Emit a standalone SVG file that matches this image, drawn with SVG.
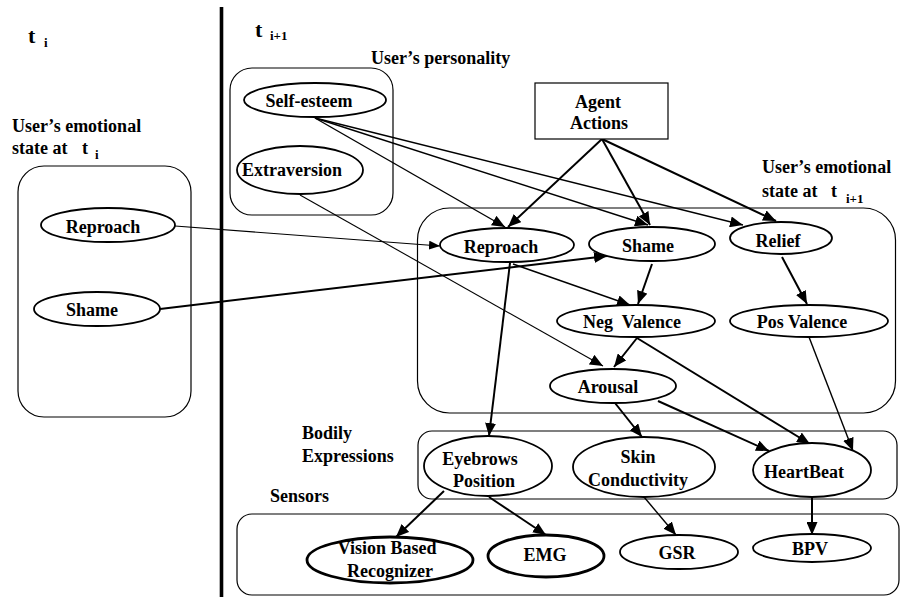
<svg xmlns="http://www.w3.org/2000/svg" width="901" height="597" viewBox="0 0 901 597">
<style>
text{font-family:'Liberation Serif','Times New Roman',Times,'DejaVu Serif',serif;font-weight:700;font-size:18px;fill:#000}
.c{text-anchor:middle}
.sub{font-size:13px}
.big{font-size:22px}
.box{fill:none;stroke:#000;stroke-width:1.2}
.n{fill:#fff;stroke:#000;stroke-width:1.8}
.nt{fill:#fff;stroke:#000;stroke-width:2.8}
.e{fill:none;stroke:#000;stroke-width:2}
.t1{stroke-width:1.1}
.t2{stroke-width:1.4}
</style>
<defs>
<marker id="ah" markerUnits="userSpaceOnUse" markerWidth="13" markerHeight="11" refX="13" refY="5.5" orient="auto">
<path d="M0,0 L13,5.5 L0,11 z" fill="#000"/>
</marker>
<marker id="ahs" markerUnits="userSpaceOnUse" markerWidth="11" markerHeight="9" refX="11" refY="4.5" orient="auto">
<path d="M0,0 L11,4.5 L0,9 z" fill="#000"/>
</marker>
</defs>
<rect width="901" height="597" fill="#fff"/>

<g id="divider"><line x1="221.5" y1="7" x2="221.5" y2="597" stroke="#000" stroke-width="3.6"/></g>

<g id="labels">
<text class="big" x="28" y="43">t</text><text class="sub" x="44" y="47">i</text>
<text class="big" x="255" y="37">t</text><text class="sub" x="270" y="40">i+1</text>
<text x="371" y="64">User’s personality</text>
<text x="12" y="132">User’s emotional</text>
<text x="12" y="154">state at</text><text x="82" y="154">t</text><text class="sub" x="95" y="159">i</text>
<text x="762" y="173">User’s emotional</text>
<text x="762" y="197">state at</text><text x="831" y="197">t</text><text class="sub" x="846" y="203">i+1</text>
<text x="302" y="439">Bodily</text>
<text x="302" y="462">Expressions</text>
<text x="270" y="502">Sensors</text>
</g>

<g id="groups">
<rect id="personality-box" class="box" x="230" y="68" width="163" height="147" rx="22"/>
<rect id="emotion-ti-box" class="box" x="18" y="166" width="173" height="251" rx="26"/>
<rect id="emotion-ti1-box" class="box" x="417.5" y="208" width="478" height="205" rx="32"/>
<rect id="bodily-box" class="box" x="418" y="431" width="479" height="68" rx="14"/>
<rect id="sensors-box" class="box" x="237" y="514" width="662" height="81" rx="15"/>
</g>

<g id="connectors">
<path class="e t1" d="M175,226 L440,246" marker-end="url(#ahs)"/>
<path class="e" d="M160,309 L607,256" marker-end="url(#ah)"/>
<path class="e t2" d="M315,118 L505,227" marker-end="url(#ah)"/>
<path class="e t2" d="M315,118 L648,225" marker-end="url(#ah)"/>
<path class="e t2" d="M315,118 L743,225" marker-end="url(#ah)"/>
<path class="e" d="M602,139 L508,227" marker-end="url(#ah)"/>
<path class="e" d="M602,139 L650,225" marker-end="url(#ah)"/>
<path class="e" d="M602,139 L776,221" marker-end="url(#ah)"/>
<path class="e t1" d="M300,195 L603,366" marker-end="url(#ah)"/>
<path class="e t2" d="M513,264 L630,305" marker-end="url(#ah)"/>
<path class="e" d="M652,264 L638,304" marker-end="url(#ah)"/>
<path class="e" d="M782,257 L807,304" marker-end="url(#ah)"/>
<path class="e" d="M637,338 L614,367" marker-end="url(#ah)"/>
<path class="e" d="M510,263 L489,436" marker-end="url(#ah)"/>
<path class="e" d="M615,403 L642,437" marker-end="url(#ah)"/>
<path class="e" d="M658,401 L769,451" marker-end="url(#ah)"/>
<path class="e" d="M637,338 L810,444" marker-end="url(#ah)"/>
<path class="e t2" d="M809,337 L853,451" marker-end="url(#ah)"/>
<path class="e" d="M812,497 L812,535" marker-end="url(#ah)"/>
<path class="e t2" d="M644,497 L676,535" marker-end="url(#ah)"/>
<path class="e" d="M444,491 L396,537" marker-end="url(#ah)"/>
<path class="e" d="M489,497 L546,535" marker-end="url(#ah)"/>
</g>

<g id="agent-actions"><rect x="535" y="83" width="133" height="56" fill="#fff" stroke="#000" stroke-width="1.2"/><text class="c" x="598" y="108">Agent</text><text class="c" x="599" y="129">Actions</text></g>

<g id="self-esteem"><ellipse class="n" cx="315" cy="100" rx="71" ry="17"/><text class="c" x="309" y="107">Self-esteem</text></g>
<g id="extraversion"><ellipse class="n" cx="300" cy="170" rx="63" ry="24"/><text class="c" x="292" y="176">Extraversion</text></g>

<g id="reproach-ti"><ellipse class="n" cx="108" cy="225" rx="67" ry="17"/><text class="c" x="103" y="233">Reproach</text></g>
<g id="shame-ti"><ellipse class="n" cx="97" cy="309" rx="63" ry="17"/><text class="c" x="92" y="316">Shame</text></g>

<g id="reproach"><ellipse class="n" cx="507" cy="245" rx="67" ry="17"/><text class="c" x="501" y="253">Reproach</text></g>
<g id="shame"><ellipse class="n" cx="652" cy="244" rx="63" ry="17"/><text class="c" x="648" y="252">Shame</text></g>
<g id="relief"><ellipse class="n" cx="781" cy="238" rx="51" ry="16"/><text class="c" x="778" y="247">Relief</text></g>
<g id="neg-valence"><ellipse class="n" cx="636" cy="321" rx="79" ry="16"/><text class="c" x="632" y="328" xml:space="preserve">Neg  Valence</text></g>
<g id="pos-valence"><ellipse class="n" cx="809" cy="321" rx="79" ry="16"/><text class="c" x="802" y="328">Pos Valence</text></g>
<g id="arousal"><ellipse class="n" cx="613" cy="386" rx="63" ry="17"/><text class="c" x="608" y="393">Arousal</text></g>

<g id="eyebrows-position"><ellipse class="n" cx="488" cy="466" rx="64" ry="30"/><text class="c" x="480" y="465">Eyebrows</text><text class="c" x="484" y="487">Position</text></g>
<g id="skin-conductivity"><ellipse class="n" cx="644" cy="467" rx="71" ry="30"/><text class="c" x="638" y="463">Skin</text><text class="c" x="638" y="486">Conductivity</text></g>
<g id="heartbeat"><ellipse class="n" cx="812" cy="470" rx="59" ry="27"/><text class="c" x="804" y="478">HeartBeat</text></g>

<g id="vision-based-recognizer"><ellipse class="nt" cx="390" cy="560" rx="83" ry="23"/><text class="c" x="387" y="554">Vision Based</text><text class="c" x="390" y="577">Recognizer</text></g>
<g id="emg"><ellipse class="nt" cx="546" cy="556" rx="58" ry="21"/><text class="c" x="545" y="561">EMG</text></g>
<g id="gsr"><ellipse class="n" cx="679" cy="552" rx="59" ry="17"/><text class="c" x="677" y="559">GSR</text></g>
<g id="bpv"><ellipse class="n" cx="812" cy="548" rx="59" ry="14"/><text class="c" x="810" y="555">BPV</text></g>
</svg>
